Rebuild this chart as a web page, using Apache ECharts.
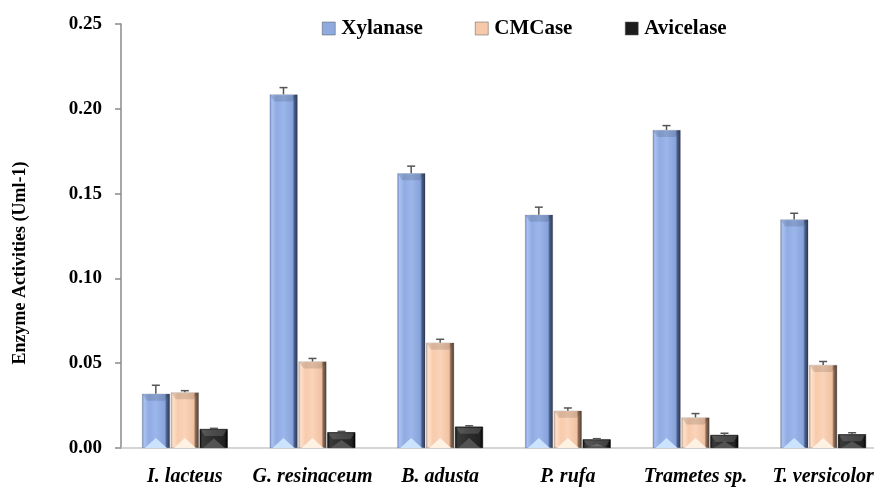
<!DOCTYPE html>
<html><head><meta charset="utf-8">
<script src="https://cdn.jsdelivr.net/npm/echarts@6/dist/echarts.min.js"></script>
<style>html,body{margin:0;padding:0;background:#fff;overflow:hidden;width:874px;height:488px}#c{width:890px;height:488px}</style>
</head><body><div id="c"></div>
<script>
const categories = ['I. lacteus', 'G. resinaceum', 'B. adusta', 'P. rufa', 'Trametes sp.', 'T. versicolor'];
const seriesNames = ['Xylanase', 'CMCase', 'Avicelase'];
const xylanase = [0.032, 0.2085, 0.162, 0.1375, 0.1875, 0.1348];
const cmcase = [0.0328, 0.0510, 0.0621, 0.0220, 0.0180, 0.0490];
const avicelase = [0.0112, 0.0093, 0.0126, 0.0051, 0.0077, 0.0081];
const xylanaseErr = [0.0050, 0.0040, 0.0042, 0.0045, 0.0026, 0.0036];
const cmcaseErr = [0.0010, 0.0018, 0.0020, 0.0016, 0.0023, 0.0020];
const avicelaseErr = [0.0004, 0.0005, 0.0005, 0.0004, 0.0010, 0.0009];
const yTicks = [0, 0.05, 0.10, 0.15, 0.20, 0.25];
const yTitle = 'Enzyme Activities (Uml-1)';

const values = [xylanase, cmcase, avicelase];
const errs = [xylanaseErr, cmcaseErr, avicelaseErr];
const G = echarts.graphic;
const fills = [
  new G.LinearGradient(0,0,1,0,[{offset:0,color:'#6f8cc4'},{offset:0.08,color:'#a9c1f0'},{offset:0.25,color:'#90ace3'},{offset:0.5,color:'#9bb6ea'},{offset:0.82,color:'#87a3da'},{offset:0.88,color:'#4a5f8c'},{offset:1,color:'#2a3550'}]),
  new G.LinearGradient(0,0,1,0,[{offset:0,color:'#d2a688'},{offset:0.08,color:'#fde0cb'},{offset:0.25,color:'#f7cbad'},{offset:0.5,color:'#fad3b8'},{offset:0.82,color:'#f1c2a2'},{offset:0.88,color:'#8d6c57'},{offset:1,color:'#4a3a30'}]),
  new G.LinearGradient(0,0,1,0,[{offset:0,color:'#111'},{offset:0.1,color:'#3a3a3a'},{offset:0.5,color:'#2c2c2c'},{offset:0.88,color:'#222'},{offset:1,color:'#000'}])
];
const legendColors = ['#8eaadf', '#f6c9aa', '#1c1c1c'];
const tri = ['#cfe6ff', '#fff3e6', '#555'];
const BW = 28, STEP = 29;

const series = [];
seriesNames.forEach((n, i) => {
  series.push({
    name: n, type: 'bar', data: values[i], barWidth: BW, barGap: '3%',
    itemStyle: { color: fills[i], borderColor: i === 2 ? '#000' : 'rgba(60,60,60,0.35)', borderWidth: 0.6 },
    z: 2
  });
});
seriesNames.forEach((n, i) => {
  series.push({
    type: 'custom', name: n + '_deco', silent: true, z: 3,
    data: values[i].map((v, k) => [k, v, errs[i][k]]),
    renderItem: function (params, api) {
      const base = api.coord([api.value(0), 0]);
      const top = api.coord([api.value(0), api.value(1)]);
      const errTop = api.coord([api.value(0), api.value(1) + api.value(2)]);
      const cx = base[0] + (i - 1) * STEP;
      const l = cx - BW / 2, r = cx + BW / 2;
      const h = base[1] - top[1];
      const th = Math.min(10, h / 2);
      const children = [
        { type: 'polygon', shape: { points: [[l + 3, base[1]], [cx, base[1] - th], [r - 3, base[1]]] },
          style: { fill: tri[i], opacity: 0.95 } },
        { type: 'polygon', shape: { points: [[l + 1, top[1] + 1], [r - 1, top[1] + 1], [r - 5, top[1] + 7], [l + 5, top[1] + 7]] },
          style: { fill: i === 2 ? 'rgba(255,255,255,0.15)' : 'rgba(0,0,0,0.12)' } },
        { type: 'line', shape: { x1: cx, y1: top[1], x2: cx, y2: errTop[1] }, style: { stroke: '#555', lineWidth: 1.5 } },
        { type: 'line', shape: { x1: cx - 4, y1: errTop[1], x2: cx + 4, y2: errTop[1] }, style: { stroke: '#555', lineWidth: 1.5 } }
      ];
      return { type: 'group', children };
    }
  });
});

const legendLefts = [322, 475, 625];
const legends = seriesNames.map((n, i) => ({
  left: legendLefts[i], top: 18, padding: 0, icon: 'rect', itemWidth: 13, itemHeight: 13, itemGap: 6,
  data: [{ name: n, itemStyle: { color: legendColors[i], borderColor: '#555', borderWidth: 0.5 } }],
  textStyle: { fontFamily: 'Liberation Serif', fontWeight: 'bold', fontSize: 21, color: '#000', padding: [0, 0, 0, 1] },
  selectedMode: false
}));

const chart = echarts.init(document.getElementById('c'));
chart.setOption({
  animation: false,
  legend: legends,
  graphic: [{
    type: 'text', rotation: Math.PI / 2, x: 20, y: 263,
    style: { text: yTitle, fontFamily: 'Liberation Serif', fontWeight: 'bold', fontSize: 18, fill: '#000', align: 'center', verticalAlign: 'middle' }
  }],
  grid: { left: 121, top: 24, width: 766, bottom: 40, containLabel: false },
  xAxis: {
    type: 'category', data: categories,
    axisLine: { lineStyle: { color: '#c8c8c8', width: 1.5 } },
    axisTick: { show: false },
    axisLabel: { interval: 0, margin: 19, fontFamily: 'Liberation Serif', fontStyle: 'italic', fontWeight: 'bold', fontSize: 20, color: '#000' }
  },
  yAxis: {
    type: 'value', min: 0, max: 0.25, interval: 0.05,
    axisLine: { show: true, lineStyle: { color: '#8a8a8a', width: 1.5 } },
    axisTick: { show: true, length: 6, lineStyle: { color: '#8a8a8a', width: 1.5 } },
    splitLine: { show: false },
    axisLabel: { margin: 19, fontFamily: 'Liberation Serif', fontWeight: 'bold', fontSize: 19, color: '#000',
      formatter: v => yTicks.includes(+v.toFixed(2)) ? v.toFixed(2) : '' }
  },
  series
});
</script></body></html>
